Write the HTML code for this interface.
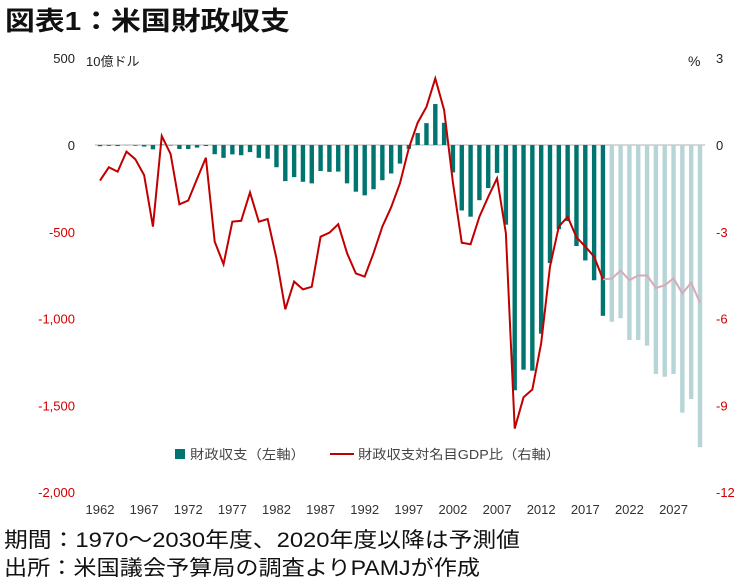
<!DOCTYPE html>
<html><head><meta charset="utf-8">
<style>
body{margin:0;background:#fff;width:750px;height:583px;overflow:hidden;font-family:"Liberation Sans","Noto Sans CJK JP",sans-serif;}
</style></head>
<body>
<svg id="chart" width="750" height="583" xmlns="http://www.w3.org/2000/svg" font-family="Liberation Sans, Noto Sans CJK JP, sans-serif">
<text x="5" y="30" font-size="26" font-weight="bold" fill="#111" textLength="285" lengthAdjust="spacingAndGlyphs">図表1：米国財政収支</text>
<text x="86" y="66" font-size="13" fill="#222">10億ドル</text>
<text x="688" y="66" font-size="14" fill="#222">%</text>
<line x1="95" y1="145" x2="705" y2="145" stroke="#ccc" stroke-width="1.5"/>
<g id="bars"></g><g id="lines"></g><g id="axes"></g>
<g>
<rect x="175" y="449" width="10" height="10" fill="#007570"/>
<text x="190" y="459" font-size="13" fill="#444" textLength="115" lengthAdjust="spacingAndGlyphs">財政収支（左軸）</text>
<line x1="330" y1="454" x2="354" y2="454" stroke="#c00000" stroke-width="2"/>
<text x="358" y="459" font-size="13" fill="#444" textLength="202" lengthAdjust="spacingAndGlyphs">財政収支対名目GDP比（右軸）</text>
</g>
<text x="4" y="547" font-size="21" fill="#111" textLength="516" lengthAdjust="spacingAndGlyphs">期間：1970～2030年度、2020年度以降は予測値</text>
<text x="4" y="575" font-size="21" fill="#111" textLength="476" lengthAdjust="spacingAndGlyphs">出所：米国議会予算局の調査よりPAMJが作成</text>
</svg>
<script>
const years=[];for(let y=1962;y<=2030;y++)years.push(y);
const balance=[-7,-5,-6,-1,-4,-9,-25,3,-3,-23,-23,-15,-6,-53,-74,-54,-59,-41,-74,-79,-128,-208,-185,-212,-221,-150,-155,-153,-221,-269,-290,-255,-203,-164,-107,-22,69,126,236,128,-158,-377,-413,-318,-248,-161,-459,-1413,-1294,-1300,-1087,-680,-485,-438,-582,-665,-779,-984,-1018,-998,-1123,-1123,-1156,-1319,-1335,-1319,-1542,-1463,-1741];
const ratio=[-1.23,-0.77,-0.92,-0.23,-0.49,-1.04,-2.82,0.31,-0.31,-2.05,-1.92,-1.17,-0.44,-3.34,-4.12,-2.65,-2.62,-1.64,-2.65,-2.56,-3.92,-5.68,-4.72,-4.99,-4.90,-3.17,-3.03,-2.74,-3.74,-4.44,-4.55,-3.74,-2.82,-2.15,-1.32,-0.11,0.77,1.32,2.30,1.21,-1.3,-3.38,-3.43,-2.48,-1.79,-1.15,-3.05,-9.8,-8.72,-8.45,-6.85,-4.2,-2.82,-2.48,-3.19,-3.51,-3.86,-4.64,-4.62,-4.34,-4.67,-4.51,-4.51,-4.94,-4.85,-4.61,-5.13,-4.76,-5.45];
const forecastStart=2020;
const leftTicks=[500,0,-500,-1000,-1500,-2000];
const leftTickLabels=["500","0","-500","-1,000","-1,500","-2,000"];
const rightTicks=[3,0,-3,-6,-9,-12];
const xTickYears=[1962,1967,1972,1977,1982,1987,1992,1997,2002,2007,2012,2017,2022,2027];
const NS="http://www.w3.org/2000/svg";
const X=y=>100+(y-1962)*(600/68);
const YL=v=>145-v*(86.8/500);
const YR=v=>145-v*(86.8/3);
function mk(t,a,p){const e=document.createElementNS(NS,t);for(const k in a)e.setAttribute(k,a[k]);p.appendChild(e);return e;}
const gb=document.getElementById('bars');
years.forEach((yr,i)=>{const v=balance[i];const y0=YL(0),y1=YL(v);
const r=mk('rect',{x:X(yr)-2.2,y:Math.min(y0,y1),width:4.4,height:Math.abs(y1-y0),fill:yr>=forecastStart?'#b7d5d6':'#007570'},gb);

});
const gl=document.getElementById('lines');
const iF=years.indexOf(forecastStart-1);
const pa=years.slice(0,iF+1).map((yr,i)=>X(yr)+','+YR(ratio[i])).join(' ');
const pb=years.slice(iF).map((yr,j)=>X(yr)+','+YR(ratio[iF+j])).join(' ');
const l2=mk('polyline',{points:pb,fill:'none',stroke:'#d8aab8','stroke-width':2},gl);


const l1=mk('polyline',{points:pa,fill:'none',stroke:'#c00000','stroke-width':2},gl);


const ga=document.getElementById('axes');
leftTicks.forEach((v,i)=>{const t=mk('text',{x:75,y:YL(v)+5,'font-size':13,'text-anchor':'end',fill:v<0?'#d00000':'#222'},ga);t.textContent=leftTickLabels[i];

});
rightTicks.forEach(v=>{const t=mk('text',{x:716,y:YR(v)+5,'font-size':13,fill:v<0?'#d00000':'#222'},ga);t.textContent=String(v);

});
xTickYears.forEach(yr=>{const t=mk('text',{x:X(yr),y:514,'font-size':13,'text-anchor':'middle',fill:'#333'},ga);t.textContent=String(yr);

});
</script>
</body></html>
